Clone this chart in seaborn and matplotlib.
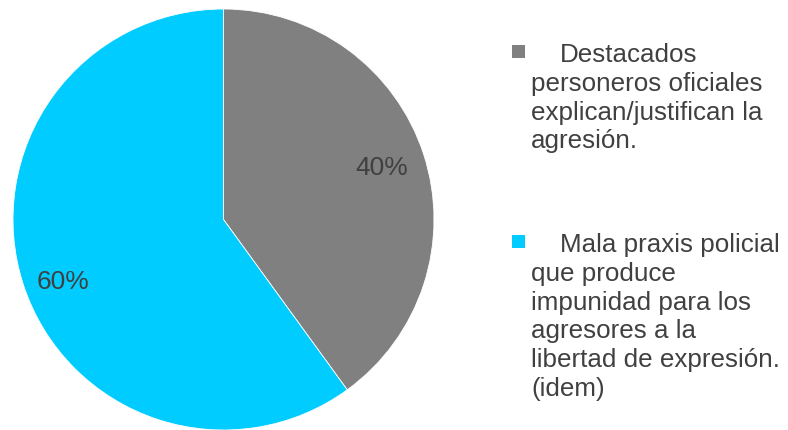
import matplotlib
matplotlib.use("Agg")
import matplotlib.pyplot as plt
import seaborn as sns
from matplotlib.patches import Rectangle

# Categories (explicit line breaks as laid out beside the pie) and shares
categories = [
    "Destacados\npersoneros oficiales\nexplican/justifican la\nagresión.",
    "Mala praxis policial\nque produce\nimpunidad para los\nagresores a la\nlibertad de expresión.\n(idem)",
]
shares = [40, 60]
colors = ["#808080", "#00CCFF"]

sns.set_theme(style="white")
plt.rcParams["font.family"] = ["Liberation Sans", "DejaVu Sans"]

W, H = 788, 430
fig = plt.figure(figsize=(W / 100, H / 100), dpi=100)
fig.patch.set_facecolor("white")

# pie area: circle centred at (223.5, 219.5) px, radius 210.5 px
cx, cy, r = 223.5, 219.5, 210.5
ax = fig.add_axes([(cx - r) / W, (H - cy - r) / H, 2 * r / W, 2 * r / H])
wedges, texts, autotexts = ax.pie(
    shares,
    colors=colors,
    startangle=90,
    counterclock=False,
    radius=1.0,
    autopct=lambda p: f"{p:.0f}%",
    pctdistance=0.79,
    wedgeprops=dict(edgecolor="white", linewidth=0.6),
    textprops=dict(color="#404040", fontsize=19),
)
# the larger slice's label sits a little lower inside its wedge
autotexts[1].set_position((-0.762, -0.297))
ax.set_xlim(-1, 1)
ax.set_ylim(-1, 1)
ax.set_aspect("equal")
ax.axis("off")

# legend drawn as blocks of text with square markers
text_color = "#404040"
fs = 18.7
line_h = 28.8
first_baselines = [62, 252]
for label, color, y0 in zip(categories, colors, first_baselines):
    lines = label.split("\n")
    # marker square beside the first line
    sq = 13
    fig.patches.append(Rectangle(((518 - sq / 2) / W, (H - (y0 - 11) - sq / 2) / H),
                                 sq / W, sq / H, transform=fig.transFigure,
                                 facecolor=color, edgecolor="none"))
    for i, line in enumerate(lines):
        x = 560 if i == 0 else 531
        fig.text(x / W, (H - (y0 + i * line_h)) / H, line, fontsize=fs,
                 color=text_color, ha="left", va="baseline")

fig.savefig("out.png", dpi=100, facecolor="white")
